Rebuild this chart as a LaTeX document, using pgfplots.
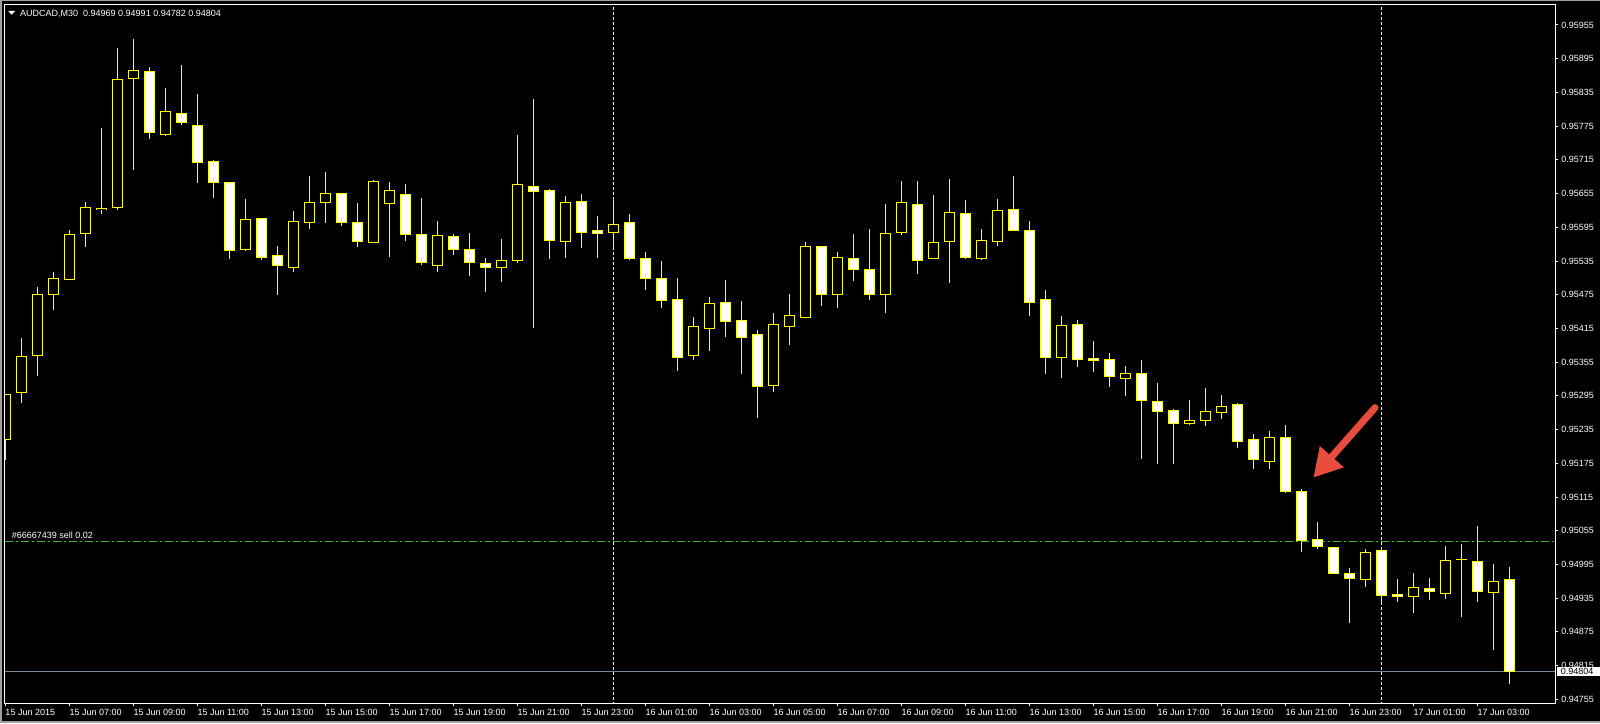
\documentclass[border=0pt]{standalone}
\usepackage{fontspec}
\setmainfont{Liberation Sans}
\usepackage{pgfplots}
\usepackage{pgfplotstable}
\pgfplotsset{compat=1.18}
\usetikzlibrary{arrows.meta}

\definecolor{candle}{RGB}{255,255,0}
\definecolor{bidline}{RGB}{119,136,153}
\definecolor{sellline}{RGB}{60,180,60}
\definecolor{arrowred}{RGB}{231,76,60}
\definecolor{winframe}{RGB}{160,160,160}

% AUDCAD M30: bar index (0 = 15 Jun 07:00), open, high, low, close
\pgfplotstableread{
j o h l c
-4 0.95218 0.95298 0.95181 0.95298
-3 0.95301 0.95398 0.95283 0.95365
-2 0.95367 0.95489 0.95331 0.95476
-1 0.95476 0.95515 0.95447 0.95504
0 0.95502 0.95590 0.95502 0.95583
1 0.95584 0.95640 0.95560 0.95631
2 0.95627 0.95772 0.95619 0.95629
3 0.95631 0.95914 0.95626 0.95858
4 0.95859 0.95930 0.95697 0.95874
5 0.95873 0.95880 0.95753 0.95763
6 0.95760 0.95843 0.95758 0.95801
7 0.95798 0.95884 0.95777 0.95782
8 0.95777 0.95832 0.95674 0.95711
9 0.95712 0.95715 0.95648 0.95675
10 0.95675 0.95675 0.95539 0.95554
11 0.95556 0.95645 0.95553 0.95609
12 0.95610 0.95610 0.95537 0.95542
13 0.95545 0.95562 0.95475 0.95527
14 0.95524 0.95624 0.95516 0.95606
15 0.95604 0.95686 0.95592 0.95639
16 0.95639 0.95693 0.95603 0.95655
17 0.95655 0.95655 0.95598 0.95604
18 0.95604 0.95638 0.95560 0.95570
19 0.95568 0.95679 0.95567 0.95677
20 0.95638 0.95676 0.95543 0.95661
21 0.95654 0.95672 0.95571 0.95583
22 0.95583 0.95647 0.95527 0.95533
23 0.95527 0.95606 0.95516 0.95581
24 0.95579 0.95583 0.95546 0.95556
25 0.95556 0.95585 0.95509 0.95533
26 0.95531 0.95540 0.95479 0.95524
27 0.95524 0.95574 0.95498 0.95536
28 0.95536 0.95759 0.95532 0.95672
29 0.95668 0.95823 0.95415 0.95659
30 0.95661 0.95664 0.95539 0.95572
31 0.95570 0.95651 0.95541 0.95639
32 0.95641 0.95654 0.95559 0.95586
33 0.95590 0.95615 0.95541 0.95584
34 0.95586 0.95649 0.95559 0.95600
35 0.95604 0.95619 0.95537 0.95540
36 0.95540 0.95551 0.95484 0.95504
37 0.95504 0.95535 0.95452 0.95465
38 0.95467 0.95505 0.95340 0.95364
39 0.95366 0.95435 0.95359 0.95419
40 0.95415 0.95471 0.95375 0.95460
41 0.95461 0.95501 0.95400 0.95428
42 0.95429 0.95464 0.95334 0.95399
43 0.95405 0.95412 0.95256 0.95312
44 0.95314 0.95442 0.95301 0.95422
45 0.95419 0.95476 0.95386 0.95438
46 0.95435 0.95569 0.95435 0.95561
47 0.95561 0.95561 0.95455 0.95475
48 0.95475 0.95551 0.95452 0.95542
49 0.95540 0.95583 0.95500 0.95520
50 0.95520 0.95592 0.95466 0.95475
51 0.95475 0.95636 0.95443 0.95584
52 0.95586 0.95677 0.95582 0.95639
53 0.95636 0.95677 0.95511 0.95536
54 0.95540 0.95652 0.95540 0.95568
55 0.95570 0.95681 0.95495 0.95622
56 0.95620 0.95644 0.95539 0.95541
57 0.95539 0.95592 0.95537 0.95572
58 0.95570 0.95645 0.95562 0.95625
59 0.95627 0.95686 0.95588 0.95590
60 0.95590 0.95606 0.95438 0.95461
61 0.95467 0.95483 0.95334 0.95364
62 0.95364 0.95437 0.95326 0.95421
63 0.95422 0.95430 0.95347 0.95360
64 0.95362 0.95393 0.95338 0.95358
65 0.95360 0.95371 0.95311 0.95330
66 0.95326 0.95348 0.95295 0.95335
67 0.95335 0.95359 0.95183 0.95287
68 0.95285 0.95318 0.95174 0.95268
69 0.95269 0.95271 0.95174 0.95246
70 0.95246 0.95288 0.95243 0.95251
71 0.95251 0.95309 0.95242 0.95268
72 0.95266 0.95297 0.95253 0.95276
73 0.95280 0.95282 0.95203 0.95214
74 0.95218 0.95227 0.95165 0.95182
75 0.95179 0.95232 0.95164 0.95221
76 0.95221 0.95243 0.95123 0.95125
77 0.95125 0.95129 0.95018 0.95038
78 0.95040 0.95071 0.95023 0.95027
79 0.95026 0.95026 0.94979 0.94979
80 0.94978 0.94989 0.94890 0.94970
81 0.94969 0.95022 0.94955 0.95017
82 0.95020 0.95022 0.94928 0.94940
83 0.94942 0.94969 0.94929 0.94938
84 0.94938 0.94980 0.94908 0.94954
85 0.94953 0.94970 0.94931 0.94947
86 0.94944 0.95028 0.94934 0.95002
87 0.95003 0.95031 0.94902 0.95004
88 0.95001 0.95063 0.94928 0.94947
89 0.94945 0.94996 0.94842 0.94965
90 0.94969 0.94991 0.94782 0.94804
}\candles

\newcommand{\lbl}{\fontsize{9}{10}\selectfont}

\begin{document}
\begin{tikzpicture}[x=1pt,y=1pt]
\fill[black] (0,0) rectangle (1600,723);
\useasboundingbox (0,0) rectangle (1600,723);
% window frame
\fill[winframe] (0,0) rectangle (1600,2.5);
\fill[winframe] (0,722) rectangle (1600,723);
\fill[winframe] (0,0) rectangle (1.5,723);

\begin{axis}[
  at={(5pt,20pt)}, anchor=south west,
  scale only axis, width=1550pt, height=698.3pt,
  xmin=-4.01875, xmax=92.85625,
  ymin=0.9474842, ymax=0.9599113,
  axis on top,
  axis line style={white, line width=1pt},
  tick style={white, line width=1pt},
  tick align=outside, major tick length=3pt,
  xtick pos=left, ytick pos=right, yticklabel pos=right,
  scaled y ticks=false,
  xtick={-4,0,4,8,12,16,20,24,28,32,36,40,44,48,52,56,60,64,68,72,76,80,84,88},
  xticklabels={15 Jun 2015,15 Jun 07:00,15 Jun 09:00,15 Jun 11:00,15 Jun 13:00,
    15 Jun 15:00,15 Jun 17:00,15 Jun 19:00,15 Jun 21:00,15 Jun 23:00,
    16 Jun 01:00,16 Jun 03:00,16 Jun 05:00,16 Jun 07:00,16 Jun 09:00,
    16 Jun 11:00,16 Jun 13:00,16 Jun 15:00,16 Jun 17:00,16 Jun 19:00,
    16 Jun 21:00,16 Jun 23:00,17 Jun 01:00,17 Jun 03:00},
  ytick={0.94755,0.94815,0.94875,0.94935,0.94995,0.95055,0.95115,0.95175,
    0.95235,0.95295,0.95355,0.95415,0.95475,0.95535,0.95595,0.95655,
    0.95715,0.95775,0.95835,0.95895,0.95955},
  yticklabels={0.94755,0.94815,0.94875,0.94935,0.94995,0.95055,0.95115,0.95175,
    0.95235,0.95295,0.95355,0.95415,0.95475,0.95535,0.95595,0.95655,
    0.95715,0.95775,0.95835,0.95895,0.95955},
  ticklabel style={font=\lbl, text=white, inner sep=0pt},
  xticklabel style={anchor=north west, yshift=-3pt},
  yticklabel style={anchor=west, xshift=3pt},
  candlebar/.style={draw=none, no markers, forget plot,
    error bars/.cd, y dir=plus, y explicit, error mark=none},
]
% day separators
\addplot[white, line width=1pt, dash pattern=on 3pt off 2pt] coordinates {(34,0.9470) (34,0.9605)};
\addplot[white, line width=1pt, dash pattern=on 3pt off 2pt] coordinates {(82,0.9470) (82,0.9605)};
% sell order level and bid line
\addplot[sellline, line width=1pt, dash pattern=on 8pt off 3pt on 2pt off 3pt] coordinates {(-5,0.95036) (95,0.95036)};
\addplot[bidline, line width=1pt] coordinates {(-5,0.94804) (95,0.94804)};

% wicks
\addplot[candlebar, error bar style={draw=candle, line width=1pt}]
  table[x=j, y=l, y error plus expr=\thisrow{h}-\thisrow{l}] {\candles};
% body outlines
\addplot[candlebar, error bar style={draw=candle, line width=11pt}]
  table[x=j, y expr={min(\thisrow{o},\thisrow{c})-0.0000089},
        y error plus expr={abs(\thisrow{o}-\thisrow{c})+0.0000178}] {\candles};
% bull bodies (black), only where the inside is not empty
\addplot[restrict expr to domain={\thisrow{c}-\thisrow{o}}{0.0000185:1},
  candlebar, error bar style={draw=black, line width=9pt}]
  table[x=j, y expr={\thisrow{o}+0.0000089},
        y error plus expr={\thisrow{c}-\thisrow{o}-0.0000178}] {\candles};
% bear bodies (white)
\addplot[restrict expr to domain={\thisrow{o}-\thisrow{c}}{0.0000185:1},
  candlebar, error bar style={draw=white, line width=9pt}]
  table[x=j, y expr={\thisrow{c}+0.0000089},
        y error plus expr={\thisrow{o}-\thisrow{c}-0.0000178}] {\candles};
\end{axis}

% header
\fill[white] (8.3,712) -- (15,712) -- (11.65,708.3) -- cycle;
\node[anchor=base west, inner sep=0pt, text=white, font=\lbl] at (20,706.7)
  {AUDCAD,M30\ \ 0.94969 0.94991 0.94782 0.94804};
% order label
\node[anchor=base west, inner sep=0pt, text=white, font=\lbl] at (11.7,184.7)
  {\#66667439 sell 0.02};
% current price box
\fill[white] (1556.5,47) rectangle (1599.5,56.5);
\node[anchor=west, inner sep=0pt, text=black, font=\lbl] at (1560.7,51.3) {0.94804};
% annotation arrow
\draw[arrowred, line width=7pt, line cap=round,
  -{Triangle[length=28pt 0, width=30pt 0]}] (1375,315.3) -- (1313.3,245.3);
\end{tikzpicture}
\end{document}
